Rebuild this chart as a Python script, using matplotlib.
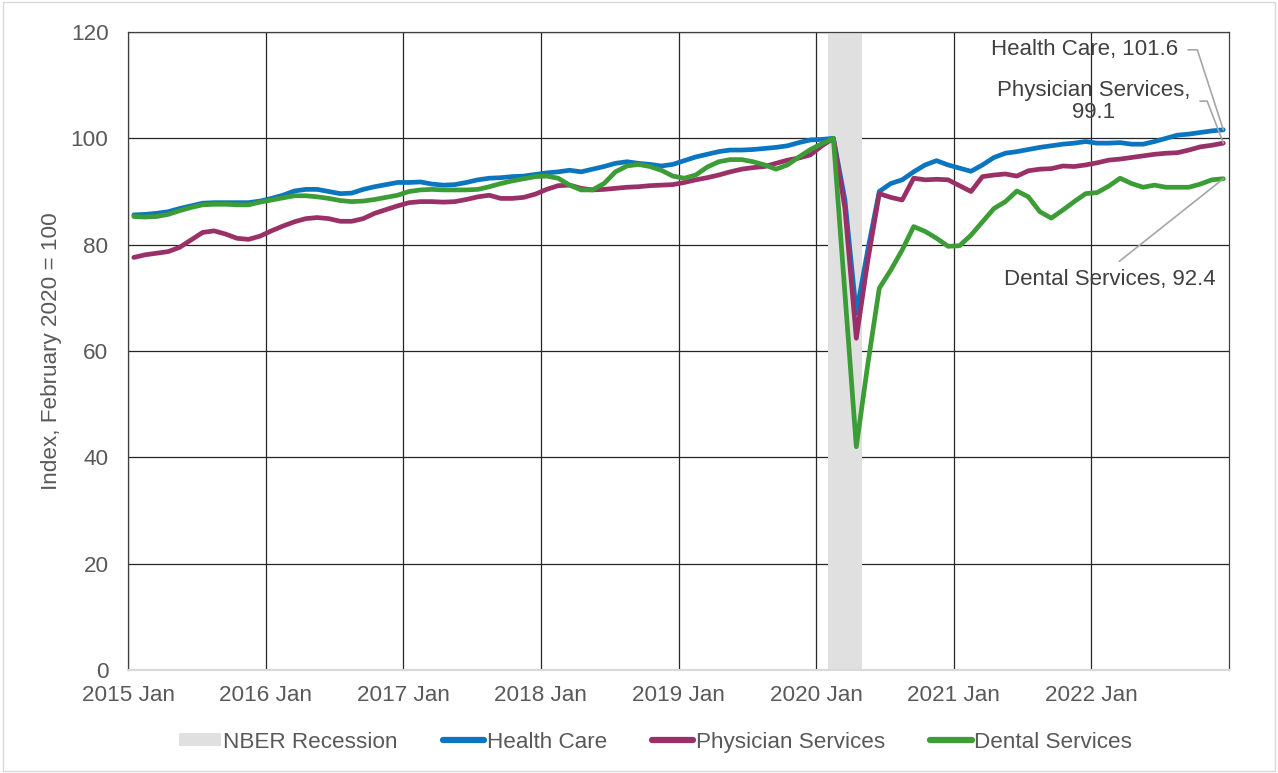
import numpy as np
import pandas as pd
import matplotlib
matplotlib.use("Agg")
import matplotlib.pyplot as plt
import matplotlib.patches as mpatches
from matplotlib.lines import Line2D

plt.rcParams['font.family'] = ['Liberation Sans', 'DejaVu Sans']

##### Data: monthly index, Feb 2020 = 100 #####
months = pd.period_range("2015-01", "2022-12", freq="M")
recession = ["2020-02", "2020-03", "2020-04"]

health_care = [
    85.6, 85.7, 85.9, 86.2, 86.8, 87.3, 87.8, 87.9, 87.9, 87.9, 87.9, 88.2,
    88.7, 89.3, 90.1, 90.4, 90.4, 90.0, 89.6, 89.7, 90.4, 90.9, 91.3, 91.7,
    91.7, 91.8, 91.4, 91.2, 91.3, 91.7, 92.2, 92.5, 92.6, 92.8, 92.9, 93.2,
    93.5, 93.7, 94.0, 93.7, 94.2, 94.7, 95.3, 95.6, 95.3, 95.1, 94.8, 95.1,
    95.8, 96.5, 97.0, 97.5, 97.8, 97.8, 97.9, 98.1, 98.3, 98.6, 99.2, 99.7,
    99.8, 100.0, 88.5, 67.1, 79.0, 90.0, 91.5, 92.2, 93.7, 95.0, 95.8, 95.0,
    94.4, 93.8, 95.0, 96.4, 97.2, 97.5, 97.9, 98.3, 98.6, 98.9, 99.1, 99.4,
    99.1, 99.1, 99.2, 98.9, 98.9, 99.4, 100.0, 100.6, 100.8, 101.1, 101.4, 101.6]

physician = [
    77.6, 78.1, 78.4, 78.7, 79.5, 80.9, 82.3, 82.6, 82.0, 81.2, 81.0, 81.6,
    82.6, 83.5, 84.3, 84.9, 85.1, 84.9, 84.4, 84.4, 84.9, 85.9, 86.6, 87.3,
    87.9, 88.1, 88.1, 88.0, 88.1, 88.5, 89.0, 89.3, 88.7, 88.7, 88.9, 89.5,
    90.4, 91.1, 91.2, 90.6, 90.3, 90.4, 90.6, 90.8, 90.9, 91.1, 91.2, 91.3,
    91.7, 92.2, 92.6, 93.1, 93.7, 94.2, 94.5, 94.7, 95.3, 95.9, 96.3, 96.9,
    98.6, 100.0, 87.0, 62.4, 77.0, 89.6, 88.9, 88.4, 92.5, 92.2, 92.3, 92.2,
    91.1, 90.0, 92.8, 93.1, 93.3, 92.9, 93.9, 94.2, 94.3, 94.8, 94.7, 95.0,
    95.4, 95.9, 96.1, 96.4, 96.7, 97.0, 97.2, 97.3, 97.8, 98.4, 98.7, 99.1]

dental = [
    85.3, 85.2, 85.3, 85.7, 86.4, 87.0, 87.5, 87.6, 87.6, 87.5, 87.5, 88.0,
    88.4, 88.8, 89.2, 89.2, 89.0, 88.7, 88.3, 88.1, 88.2, 88.5, 88.9, 89.3,
    90.0, 90.3, 90.4, 90.3, 90.3, 90.3, 90.4, 90.9, 91.5, 92.0, 92.4, 92.8,
    92.9, 92.5, 91.2, 90.3, 90.3, 91.5, 93.7, 94.8, 95.1, 94.7, 94.0, 92.9,
    92.5, 93.1, 94.6, 95.6, 96.0, 96.0, 95.6, 95.0, 94.2, 95.0, 96.5, 97.9,
    99.0, 100.0, 71.0, 42.0, 57.5, 71.8, 75.2, 79.0, 83.4, 82.5, 81.2, 79.7,
    79.8, 81.8, 84.3, 86.8, 88.1, 90.1, 89.0, 86.2, 85.0, 86.5, 88.1, 89.6,
    89.8, 91.0, 92.5, 91.5, 90.8, 91.2, 90.8, 90.8, 90.8, 91.4, 92.2, 92.4]

series = [("Health Care", health_care, "#0C75BF"),
          ("Physician Services", physician, "#9A3068"),
          ("Dental Services", dental, "#3C9C35")]

FS = 16.2

##### Plot #####
fig = plt.figure(figsize=(12.78, 7.73), dpi=100)
ax = fig.add_axes([0.1002, 0.1332, 0.8615, 0.8254])

x = np.arange(len(months)) + 0.5   # points sit mid-category like Excel
rec_idx = [months.get_loc(pd.Period(m, "M")) for m in recession]
ax.bar(np.array(rec_idx) + 0.5, [120] * len(rec_idx), width=1.0,
       color="#E0E0E0", linewidth=0, zorder=1)

for name, vals, col in series:
    ax.plot(x, vals, color=col, lw=3.4, solid_joinstyle="round",
            solid_capstyle="round", zorder=3)

ax.set_xlim(0, len(months))
ax.set_ylim(0, 120)
ax.set_yticks(range(0, 121, 20))
jan = [i for i, m in enumerate(months) if m.month == 1]
ax.set_xticks(jan)
ax.set_xticklabels(["%d Jan" % months[i].year for i in jan])
ax.grid(True, color="#262626", lw=0.9, zorder=0)
ax.set_axisbelow(True)
ax.tick_params(axis="both", length=0, labelsize=FS, labelcolor="#595959")
ax.tick_params(axis="x", pad=11)
ax.tick_params(axis="y", pad=14)
for s in ["top", "right", "left"]:
    ax.spines[s].set_color("#404040")
    ax.spines[s].set_linewidth(0.9)
ax.spines["bottom"].set_color("#D9D9D9")
ax.spines["bottom"].set_linewidth(1.5)
ax.set_ylabel("Index, February 2020 = 100", fontsize=FS, color="#595959", labelpad=6)

##### End-point labels #####
lead = dict(arrowstyle="-", color="#A6A6A6", lw=1.2, shrinkB=0)
ax.annotate("Health Care, %.1f" % health_care[-1], xy=(x[-1], health_care[-1]),
            xytext=(-45, 80), textcoords="offset pixels", ha="right", va="center",
            fontsize=16, color="#404040",
            arrowprops=dict(lead, relpos=(1, 0.5), shrinkA=5,
                            connectionstyle="angle,angleA=0,angleB=108,rad=0"))
ax.annotate("Physician Services,\n%.1f" % physician[-1], xy=(x[-1], physician[-1]),
            xytext=(-33, 42), textcoords="offset pixels", ha="right", va="center",
            multialignment="center", linespacing=1.05, fontsize=16, color="#404040",
            arrowprops=dict(lead, relpos=(1, 0.5), shrinkA=5,
                            connectionstyle="angle,angleA=0,angleB=111,rad=0"))
ax.annotate("Dental Services, %.1f" % dental[-1], xy=(x[-1], dental[-1]),
            xytext=(-114, -101), textcoords="offset pixels", ha="center", va="center",
            fontsize=16, color="#404040",
            arrowprops=dict(lead, relpos=(0.5, 1), shrinkA=6))

##### Legend #####
handles = [mpatches.Patch(facecolor="#E0E0E0", edgecolor="none", label="NBER Recession")]
for name, vals, col in series:
    handles.append(Line2D([], [], color=col, lw=4.5, solid_capstyle="round", label=name))
fig.legend(handles=handles, loc="center", bbox_to_anchor=(0.513, 0.040), ncol=4,
           frameon=False, fontsize=FS, labelcolor="#595959", handlelength=1.85,
           handletextpad=0.1, columnspacing=2.0, handleheight=0.55)

fig.patches.append(mpatches.Rectangle((0.002, 0.002), 0.996, 0.996, transform=fig.transFigure,
                                      fill=False, edgecolor="#D9D9D9", lw=1))

plt.savefig("out.png", dpi=100)
plt.close()
